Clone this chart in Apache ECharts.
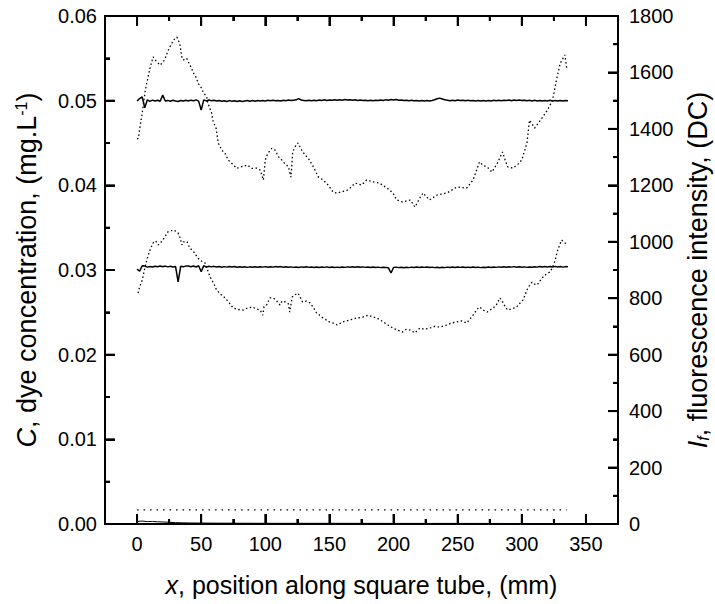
<!DOCTYPE html>
<html><head><meta charset="utf-8">
<script src="https://cdn.jsdelivr.net/npm/echarts@6/dist/echarts.min.js"></script>
<style>html,body{margin:0;padding:0;background:#fff}#c{width:715px;height:604px;background:#fff}</style>
</head><body><div id="c"></div>
<script>
// ---- data ----
const xMajorTicks = [0, 50, 100, 150, 200, 250, 300, 350];
const xMinorTicks = [25, 75, 125, 175, 225, 275, 325];
const leftMajorTicks = [0.01, 0.02, 0.03, 0.04, 0.05];
const leftMinorTicks = [0.005, 0.015, 0.025, 0.035, 0.045, 0.055];
const rightMajorTicks = [200, 400, 600, 800, 1000, 1200, 1400, 1600];
const rightMinorTicks = [100, 300, 500, 700, 900, 1100, 1300, 1500, 1700];

const posSolid = [0,2,4,6,8,10,12,14,16,18,20,22,24,26,28,30,32,34,36,38,40,42,44,46,48,50,52,54,56,58,60,62,64,66,68,70,72,74,76,78,80,82,84,86,88,90,92,94,96,98,100,102,104,106,108,110,112,114,116,118,120,122,124,126,128,130,132,134,136,138,140,142,144,146,148,150,152,154,156,158,160,162,164,166,168,170,172,174,176,178,180,182,184,186,188,190,192,194,196,198,200,202,204,206,208,210,212,214,216,218,220,222,224,226,228,230,232,234,236,238,240,242,244,246,248,250,252,254,256,258,260,262,264,266,268,270,272,274,276,278,280,282,284,286,288,290,292,294,296,298,300,302,304,306,308,310,312,314,316,318,320,322,324,326,328,330,332,334,336];

const concUpper = [
0.04995,0.05025,0.05045,0.04915,0.05010,0.04992,0.05006,0.04996,0.05004,0.04994,
0.05065,0.04996,0.05003,0.04993,0.05005,0.04997,0.04991,0.05002,0.04995,0.05004,
0.04996,0.05006,0.04998,0.05009,0.04995,0.04890,0.05010,0.04997,0.05007,0.04998,
0.05004,0.04996,0.05002,0.04993,0.04999,0.04990,0.05001,0.04992,0.04998,0.04990,
0.05000,0.04991,0.04997,0.05002,0.04993,0.05001,0.04994,0.05003,0.04996,0.05002,
0.04997,0.05004,0.04998,0.05006,0.04999,0.05003,0.04997,0.05005,0.05000,0.05007,
0.05001,0.05006,0.05010,0.05025,0.05008,0.05003,0.04998,0.05005,0.04999,0.05004,
0.05000,0.05008,0.05002,0.05010,0.05003,0.05009,0.05004,0.05012,0.05005,0.05011,
0.05006,0.05013,0.05007,0.05012,0.05005,0.05010,0.05003,0.05008,0.05001,0.05006,
0.05000,0.05005,0.04998,0.05004,0.05001,0.05008,0.05003,0.05012,0.05006,0.05014,
0.05008,0.05013,0.05004,0.05009,0.05001,0.05006,0.04999,0.05004,0.04998,0.05003,
0.04997,0.05003,0.04996,0.05002,0.04995,0.05001,0.05010,0.05022,0.05030,0.05020,
0.05010,0.05005,0.04999,0.05006,0.05000,0.05007,0.05001,0.05006,0.04999,0.05004,
0.04998,0.05003,0.04996,0.05002,0.04995,0.05001,0.04996,0.05003,0.04997,0.05004,
0.04999,0.05005,0.05000,0.05006,0.05001,0.05007,0.05000,0.05008,0.05002,0.05009,
0.05001,0.05006,0.04998,0.05005,0.04997,0.05004,0.04996,0.05003,0.04995,0.05002,
0.04997,0.05004,0.04995,0.05003,0.04996,0.05002,0.04995,0.05001,0.04998];

const concLower = [
0.03010,0.02985,0.03050,0.03046,0.03034,0.03042,0.03036,0.03045,0.03038,0.03047,
0.03039,0.03046,0.03037,0.03044,0.03036,0.03042,0.02860,0.03043,0.03038,0.03046,
0.03047,0.03039,0.03048,0.03036,0.03050,0.02980,0.03052,0.03034,0.03045,0.03037,
0.03043,0.03035,0.03041,0.03033,0.03040,0.03034,0.03042,0.03036,0.03041,0.03033,
0.03039,0.03032,0.03038,0.03031,0.03037,0.03033,0.03039,0.03032,0.03038,0.03034,
0.03040,0.03033,0.03039,0.03034,0.03041,0.03035,0.03040,0.03033,0.03038,0.03032,
0.03037,0.03031,0.03036,0.03030,0.03037,0.03032,0.03038,0.03031,0.03036,0.03030,
0.03035,0.03029,0.03036,0.03031,0.03037,0.03030,0.03035,0.03029,0.03034,0.03030,
0.03036,0.03031,0.03037,0.03032,0.03038,0.03033,0.03039,0.03032,0.03037,0.03031,
0.03036,0.03030,0.03035,0.03029,0.03034,0.03028,0.03033,0.03030,0.03026,0.02965,
0.03030,0.03034,0.03028,0.03033,0.03027,0.03032,0.03028,0.03034,0.03029,0.03035,
0.03030,0.03036,0.03031,0.03035,0.03029,0.03034,0.03028,0.03033,0.03027,0.03032,
0.03028,0.03034,0.03029,0.03035,0.03030,0.03036,0.03031,0.03035,0.03029,0.03034,
0.03030,0.03035,0.03029,0.03034,0.03028,0.03033,0.03029,0.03035,0.03030,0.03036,
0.03031,0.03037,0.03032,0.03038,0.03033,0.03039,0.03034,0.03040,0.03033,0.03038,
0.03032,0.03037,0.03031,0.03036,0.03032,0.03039,0.03034,0.03042,0.03035,0.03040,
0.03036,0.03041,0.03035,0.03043,0.03036,0.03041,0.03034,0.03040,0.03037];

const posBase = [0,4,8,12,16,20,25,30,40,60,100,150,200,250,300,336];
const concBase = [0.00030,0.00035,0.00028,0.00030,0.00026,0.00024,0.00020,0.00016,0.00012,0.00010,0.00008,0.00008,0.00007,0.00007,0.00006,0.00006];

const posFluorUpper = [0,1,2.3,3.6,4.9,6.2,7.5,8.6,10,12.5,15.3,18,20.5,22,24.4,27,29.6,31,32.2,33.5,34.8,36,38.7,40,42.6,43.6,46.5,47.5,50.4,51.5,54.3,55,58.2,59,61.6,63.4,66,68.6,71,73.8,77.7,81.6,86,89.4,93.5,96,98.5,100,102,105,107.6,110.5,112.8,115,118,120,121.4,124,125.5,128.4,131,133.5,137.4,141.3,145,149,153,155.6,159.5,164,166,170,175,179,184,189,195,199.5,202.5,207,213,216.7,220.5,223,228,234,241.6,249.4,257,262,267,270,273,276.7,281,285,287,289,293,297,300,304,306,310,315.7,320,324,327,330,333.6,335];
const intFluorUpper = [1365,1366,1408,1443,1485,1530,1561,1584,1614,1655,1638,1626,1638,1651,1679,1703,1721,1725,1715,1697,1656,1644,1650,1637,1614,1601,1579,1562,1544,1530,1514,1495,1455,1431,1402,1349,1325,1313,1290,1278,1260,1266,1272,1260,1261,1254,1219,1290,1313,1331,1325,1300,1290,1278,1266,1229,1319,1343,1350,1325,1307,1296,1266,1230,1219,1201,1176,1172,1177,1183,1190,1208,1201,1219,1212,1208,1190,1173,1148,1141,1148,1123,1155,1173,1148,1166,1173,1194,1190,1219,1283,1270,1265,1247,1279,1318,1290,1265,1261,1275,1290,1350,1431,1403,1438,1467,1502,1573,1633,1662,1616];

const posFluorLower = [0.8,2,4,6,8,10,12.5,14.5,16.5,18,20,22,24,26,28,30,32,33.5,35,36,37.5,39,41,43,45,47,49,51,53,55,57,60,62,65,68.6,72,75,79,82.6,86,90,93,96,98,99,101,103.6,106,108,111.5,113,115.4,118,119,121,123,125.5,127,129,132,135,137,140,145,150,153,156,160.5,166,171.5,176,180,183,187,192,195.6,199.5,203,207,210,213,216.7,220.5,224,228,232,236,241.6,245,249.4,253,257,262,265,267,270,273,277.5,280,283,285,287,289,292,296,298,301,304,306,308,310,312,314,316.5,319,322,324,326,328,330,331,333,335];
const intFluorLower = [818,840,864,905,942,970,996,1003,989,995,1006,1020,1035,1038,1042,1038,1031,1015,989,1000,999,1000,978,970,960,945,935,930,925,900,875,850,829,815,801,783,765,760,758,765,769,762,758,740,770,776,801,801,795,776,790,787,780,751,804,812,818,805,787,790,783,770,748,730,716,712,705,716,723,730,733,740,735,730,716,705,694,687,680,690,687,677,694,690,694,700,698,705,712,716,720,712,740,760,769,758,751,765,775,801,787,770,758,762,769,780,794,829,845,857,850,847,860,875,885,893,910,935,971,995,1006,1000,989];

const posBackground = [0, 335];
const intBackground = [50, 50];

// ---- chart ----
const FONT = '"Liberation Sans", Arial, Helvetica, sans-serif';
const zip = (xs, ys) => xs.map((x, i) => [x, ys[i]]);
const black = '#000';
const lineW = () => ({color: black, width: 2, type: 'solid'});
function nameStyle(size) {
  return {
    fontSize: size, fontFamily: FONT, color: black,
    rich: {
      it: {fontSize: size, fontFamily: FONT, fontStyle: 'italic', color: black},
      sup: {fontSize: Math.round(size * 0.58), fontFamily: FONT, color: black, verticalAlign: 'top'},
      sub: {fontSize: Math.round(size * 0.58), fontFamily: FONT, fontStyle: 'italic', color: black, verticalAlign: 'bottom'}
    }
  };
}
const labelStyle = {fontSize: 20, fontFamily: FONT, color: black};
function xAx(pos, ticks, len, showLine, showLabel, extra) {
  return Object.assign({
    type: 'value', position: pos, min: -25, max: 375,
    axisLine: {show: showLine, onZero: false, lineStyle: lineW()},
    axisTick: {show: true, inside: true, length: len, lineStyle: lineW(), customValues: ticks},
    axisLabel: showLabel ? Object.assign({show: true, margin: 10, customValues: ticks}, labelStyle) : {show: false},
    splitLine: {show: false}
  }, extra || {});
}
function lineSeries(xs, ys, yIdx, style) {
  return {type: 'line', xAxisIndex: 0, yAxisIndex: yIdx, data: zip(xs, ys), symbol: 'none', showSymbol: false,
          silent: true, progressive: 0, large: false, lineStyle: style};
}
const tickStyle = {stroke: black, lineWidth: 2};
// inward tick marks, placed through the axis scales (api.coord) on the grid edges
function tickSeries(kind, values, len, yIdx) {
  const data = values.map(v => kind === 'x' ? [v, 0] : [0, v]);
  return {
    type: 'custom', coordinateSystem: 'cartesian2d', xAxisIndex: 0, yAxisIndex: yIdx,
    data: data, encode: {x: 0, y: 1}, silent: true, clip: false, z: 5,
    renderItem: function (params, api) {
      const cs = params.coordSys;
      const p = api.coord([api.value(0), api.value(1)]);
      if (kind === 'x') {
        const yb = cs.y + cs.height, yt = cs.y;
        return {type: 'group', children: [
          {type: 'line', shape: {x1: p[0], y1: yb, x2: p[0], y2: yb - len}, style: tickStyle},
          {type: 'line', shape: {x1: p[0], y1: yt, x2: p[0], y2: yt + len}, style: tickStyle}
        ]};
      }
      if (kind === 'left') {
        return {type: 'line', shape: {x1: cs.x, y1: p[1], x2: cs.x + len, y2: p[1]}, style: tickStyle};
      }
      const xr = cs.x + cs.width;
      return {type: 'line', shape: {x1: xr, y1: p[1], x2: xr - len, y2: p[1]}, style: tickStyle};
    }
  };
}
const frameSeries = {
  type: 'custom', coordinateSystem: 'cartesian2d', xAxisIndex: 0, yAxisIndex: 0,
  data: [[0, 0]], encode: {x: 0, y: 1}, silent: true, clip: false, z: 5,
  renderItem: function (params) {
    const cs = params.coordSys;
    return {type: 'group', children: [
      {type: 'line', shape: {x1: cs.x - 1, y1: cs.y, x2: cs.x + cs.width + 1, y2: cs.y}, style: tickStyle},
      {type: 'line', shape: {x1: cs.x - 1, y1: cs.y + cs.height, x2: cs.x + cs.width + 1, y2: cs.y + cs.height}, style: tickStyle},
      {type: 'line', shape: {x1: cs.x, y1: cs.y, x2: cs.x, y2: cs.y + cs.height}, style: tickStyle},
      {type: 'line', shape: {x1: cs.x + cs.width, y1: cs.y, x2: cs.x + cs.width, y2: cs.y + cs.height}, style: tickStyle}
    ]};
  }
};

const option = {
  animation: false,
  grid: {left: 105, right: 97, top: 16, bottom: 80, containLabel: false, outerBoundsMode: 'none'},
  xAxis: [
    xAx('bottom', xMajorTicks, 10, true, true, {
      name: '{it|x}, position along square tube, (mm)', nameLocation: 'middle', nameGap: 48, nameTextStyle: nameStyle(25)
    }),
    xAx('bottom', xMinorTicks, 5, false, false),
    xAx('top', xMajorTicks, 10, true, false),
    xAx('top', xMinorTicks, 5, false, false)
  ],
  yAxis: [
    {
      type: 'value', position: 'left', min: 0, max: 0.06, interval: 0.01,
      name: '{it|C}, dye concentration, (mg.L{sup|-1})', nameLocation: 'middle', nameRotate: 90, nameGap: 65,
      nameTextStyle: nameStyle(27),
      axisLine: {show: true, onZero: false, lineStyle: lineW()},
      axisTick: {show: true, inside: true, length: 10, lineStyle: lineW()},
      minorTick: {show: true, splitNumber: 2, length: 5, lineStyle: lineW()},
      axisLabel: Object.assign({margin: 8, formatter: v => v.toFixed(2)}, labelStyle),
      splitLine: {show: false}
    },
    {
      type: 'value', position: 'right', min: 0, max: 1800, interval: 200,
      name: '{it|I}{sub|f}, fluorescence intensity, (DC)', nameLocation: 'middle', nameRotate: 90, nameGap: 58,
      nameTextStyle: nameStyle(27),
      axisLine: {show: true, onZero: false, lineStyle: lineW()},
      axisTick: {show: true, inside: true, length: 10, lineStyle: lineW()},
      minorTick: {show: true, splitNumber: 2, length: 5, lineStyle: lineW()},
      axisLabel: Object.assign({margin: 11, formatter: v => String(v)}, labelStyle),
      splitLine: {show: false}
    }
  ],
  series: [
    lineSeries(posSolid, concUpper, 0, {color: black, width: 1.5, type: 'solid'}),
    lineSeries(posSolid, concLower, 0, {color: black, width: 1.5, type: 'solid'}),
    lineSeries(posBase, concBase, 0, {color: black, width: 1, type: 'solid'}),
    lineSeries(posFluorUpper, intFluorUpper, 1, {color: black, width: 1.3, type: [1.5, 2.5]}),
    lineSeries(posFluorLower, intFluorLower, 1, {color: black, width: 1.3, type: [1.5, 2.5]}),
    lineSeries(posBackground, intBackground, 1, {color: black, width: 1.3, type: [1.5, 5]}),
    frameSeries,
    tickSeries('x', xMajorTicks, 10, 0),
    tickSeries('x', xMinorTicks, 5, 0),
    tickSeries('left', leftMajorTicks, 10, 0),
    tickSeries('left', leftMinorTicks, 5, 0),
    tickSeries('right', rightMajorTicks, 10, 1),
    tickSeries('right', rightMinorTicks, 5, 1)
  ]
};
const chart = echarts.init(document.getElementById('c'), null, {renderer: 'svg'});
chart.setOption(option);
</script>
</body></html>
